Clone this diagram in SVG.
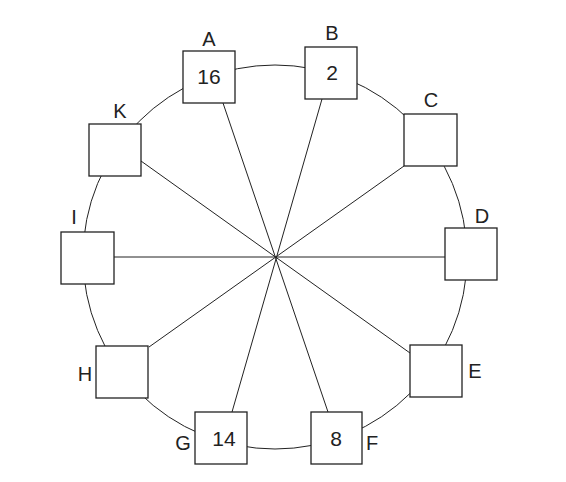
<svg xmlns="http://www.w3.org/2000/svg" width="566" height="482" viewBox="0 0 566 482">
<style>
.bx{fill:#fff;stroke:#222;stroke-width:1.3}
.ln{stroke:#222;stroke-width:1;fill:none}
.lb{font-family:"Liberation Sans",Arial,sans-serif;font-size:20px;fill:#222;text-anchor:middle}
.nm{font-family:"Liberation Sans",Arial,sans-serif;font-size:21px;fill:#222;text-anchor:middle}
</style>
<rect width="566" height="482" fill="#fff"/>
<g id="connectors">
<circle class="ln" cx="275" cy="257" r="192"/>
<line class="ln" x1="223" y1="103" x2="328" y2="412"/>
<line class="ln" x1="322" y1="99" x2="232" y2="412"/>
<line class="ln" x1="404" y1="166" x2="149" y2="347"/>
<line class="ln" x1="114" y1="257" x2="445" y2="257"/>
<line class="ln" x1="141" y1="161" x2="410" y2="353"/>
</g>
<g id="A"><rect class="bx" x="183" y="51" width="52" height="52"/><text class="lb" x="209" y="46">A</text><text class="nm" x="209" y="84">16</text></g>
<g id="B"><rect class="bx" x="305" y="47" width="52" height="52"/><text class="lb" x="332" y="40">B</text><text class="nm" x="332" y="80">2</text></g>
<g id="C"><rect class="bx" x="404" y="114" width="53" height="52"/><text class="lb" x="431" y="107">C</text></g>
<g id="D"><rect class="bx" x="445" y="228" width="52" height="52"/><text class="lb" x="482" y="223">D</text></g>
<g id="E"><rect class="bx" x="410" y="345" width="52" height="52"/><text class="lb" x="475" y="378">E</text></g>
<g id="F"><rect class="bx" x="311" y="412" width="51" height="52"/><text class="lb" x="372" y="450">F</text><text class="nm" x="336" y="446">8</text></g>
<g id="G"><rect class="bx" x="195" y="412" width="52" height="52"/><text class="lb" x="183" y="450">G</text><text class="nm" x="224" y="446">14</text></g>
<g id="H"><rect class="bx" x="96" y="346" width="52" height="52"/><text class="lb" x="85" y="381">H</text></g>
<g id="I"><rect class="bx" x="61" y="232" width="53" height="52"/><text class="lb" x="74" y="224">I</text></g>
<g id="K"><rect class="bx" x="89" y="124" width="52" height="52"/><text class="lb" x="120" y="118">K</text></g>
</svg>
